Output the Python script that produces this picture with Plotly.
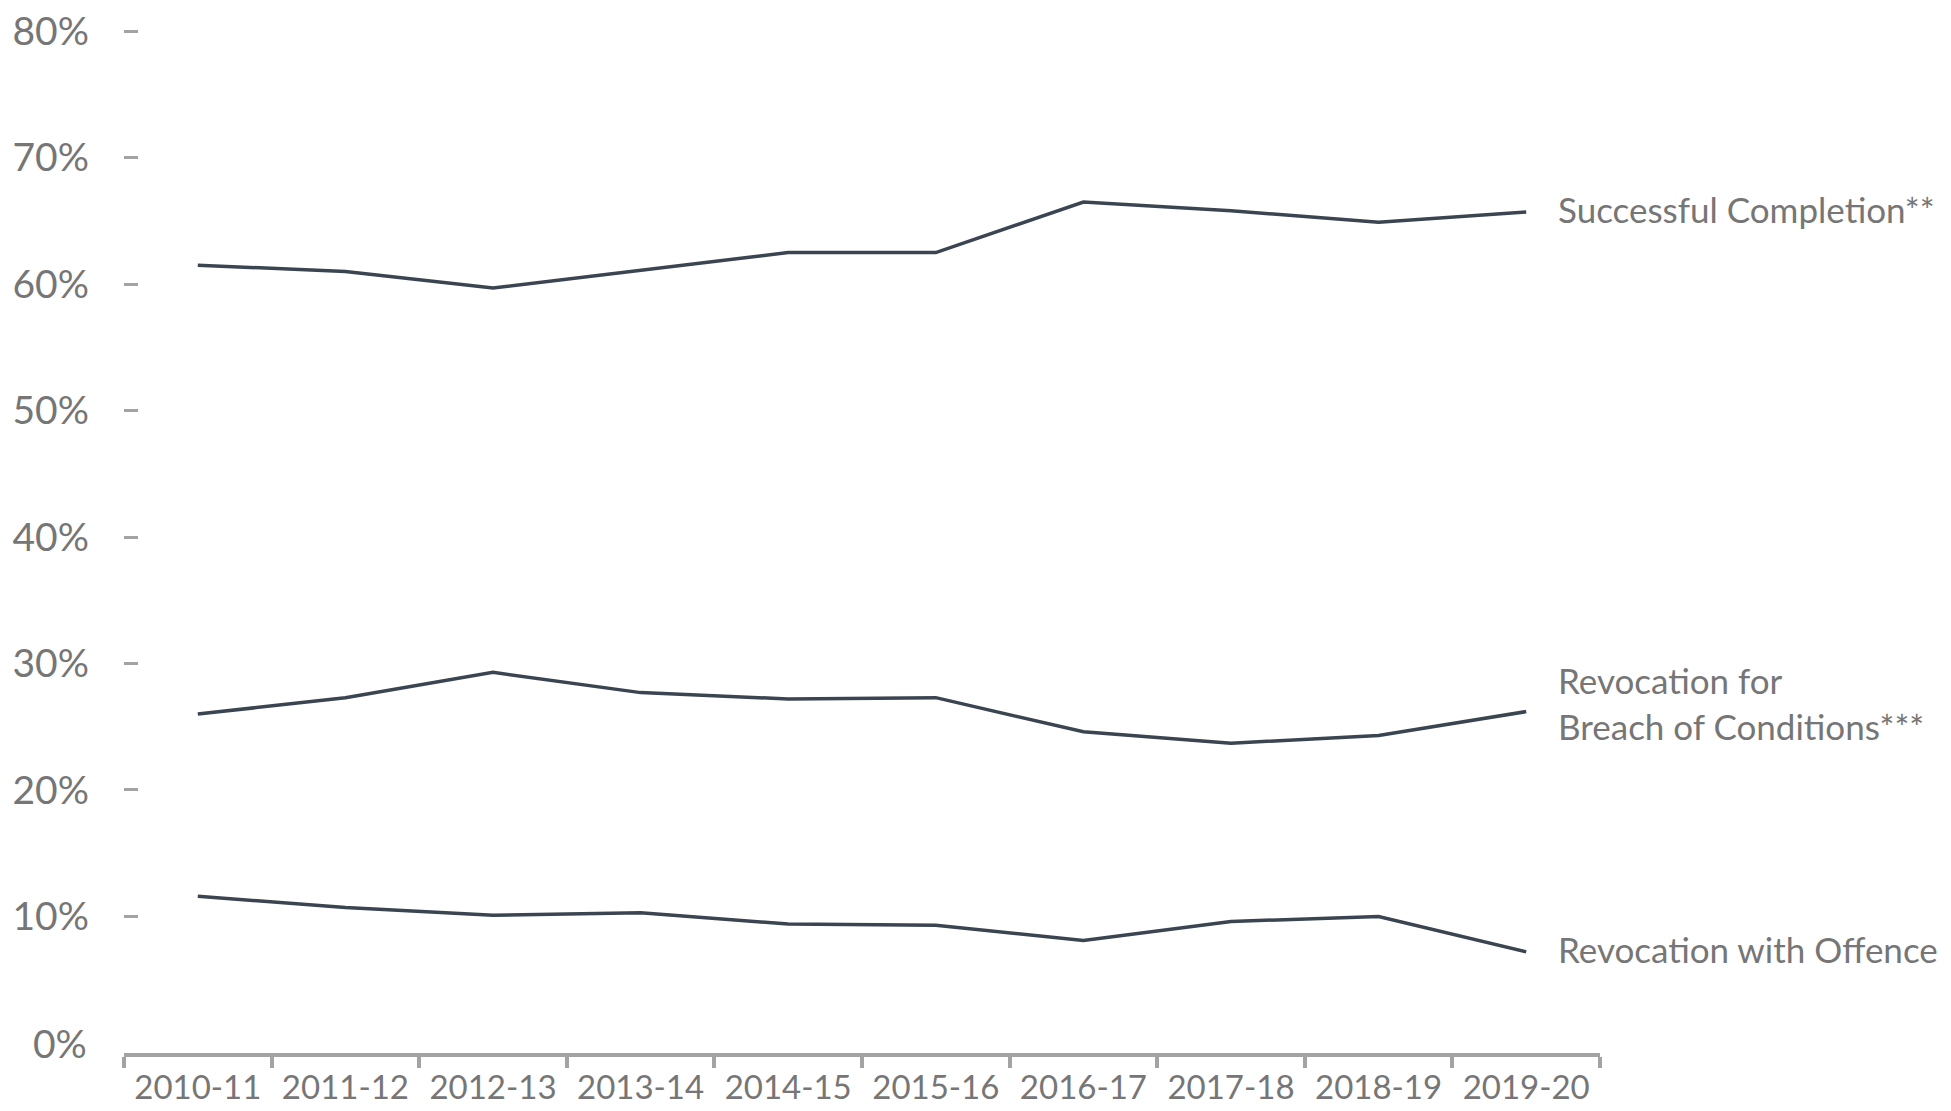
import plotly.graph_objects as go

YEARS = ['2010-11', '2011-12', '2012-13', '2013-14', '2014-15',
         '2015-16', '2016-17', '2017-18', '2018-19', '2019-20']

SUCCESSFUL = [0.615, 0.610, 0.597, 0.611, 0.625, 0.625, 0.665, 0.658, 0.649, 0.657]
BREACH = [0.260, 0.273, 0.293, 0.277, 0.272, 0.273, 0.246, 0.237, 0.243, 0.262]
OFFENCE = [0.116, 0.107, 0.101, 0.103, 0.094, 0.093, 0.081, 0.096, 0.100, 0.072]

SERIES_NAMES = ['Successful Completion**',
                'Revocation for<br>Breach of Conditions***',
                'Revocation with Offence']

Y_TICKS = [0.1, 0.2, 0.3, 0.4, 0.5, 0.6, 0.7, 0.8]
Y_LABELS = ['10%', '20%', '30%', '40%', '50%', '60%', '70%', '80%']

LINE_COLOR = '#3b4451'
TEXT_COLOR = '#767676'
AXIS_COLOR = '#a3a3a3'
FONT = 'Lato'

fig = go.Figure()

for name, values in zip(SERIES_NAMES, [SUCCESSFUL, BREACH, OFFENCE]):
    fig.add_trace(go.Scatter(
        x=YEARS,
        y=values,
        mode='lines',
        name=name.replace('<br>', ' '),
        line=dict(color=LINE_COLOR, width=3.5),
        showlegend=False,
        hoverinfo='skip'
    ))
    # end-of-line label
    fig.add_annotation(
        x=YEARS[-1], y=values[-1],
        text=name,
        showarrow=False,
        xanchor='left', yanchor='middle',
        align='left',
        xshift=30, yshift=9 if '<br>' in name else 3,
        font=dict(family=FONT, size=35, color=TEXT_COLOR)
    )

# 0% label sits at the baseline without a dash
fig.add_annotation(
    x=0, xref='paper', y=0, yref='y',
    text='0%',
    showarrow=False,
    xanchor='right', yanchor='middle',
    xshift=-35,
    font=dict(family=FONT, size=39, color=TEXT_COLOR)
)

# page body adds 8px around the figure, margins account for it
fig.update_layout(
    width=1951,
    height=1111,
    margin=dict(l=116, r=359, t=22, b=66),
    paper_bgcolor='white',
    plot_bgcolor='white',
    font=dict(family=FONT, color=TEXT_COLOR),
    xaxis=dict(
        type='category',
        range=[-0.5, 9.5],
        automargin=False,
        showgrid=False,
        zeroline=False,
        showline=True,
        linecolor=AXIS_COLOR,
        linewidth=3.5,
        ticks='outside',
        tickson='boundaries',
        ticklen=11,
        tickwidth=3.5,
        tickcolor=AXIS_COLOR,
        tickfont=dict(family=FONT, size=33, color=TEXT_COLOR),
        ticklabelstandoff=3
    ),
    yaxis=dict(
        range=[-0.008, 0.801],
        automargin=False,
        tickvals=Y_TICKS,
        ticktext=Y_LABELS,
        showgrid=False,
        zeroline=False,
        showline=False,
        ticks='inside',
        ticklen=14,
        tickwidth=3,
        tickcolor=AXIS_COLOR,
        tickfont=dict(family=FONT, size=39, color=TEXT_COLOR),
        ticklabelstandoff=34,
        ticklabeloverflow='allow'
    )
)

fig.write_html("out.html")
